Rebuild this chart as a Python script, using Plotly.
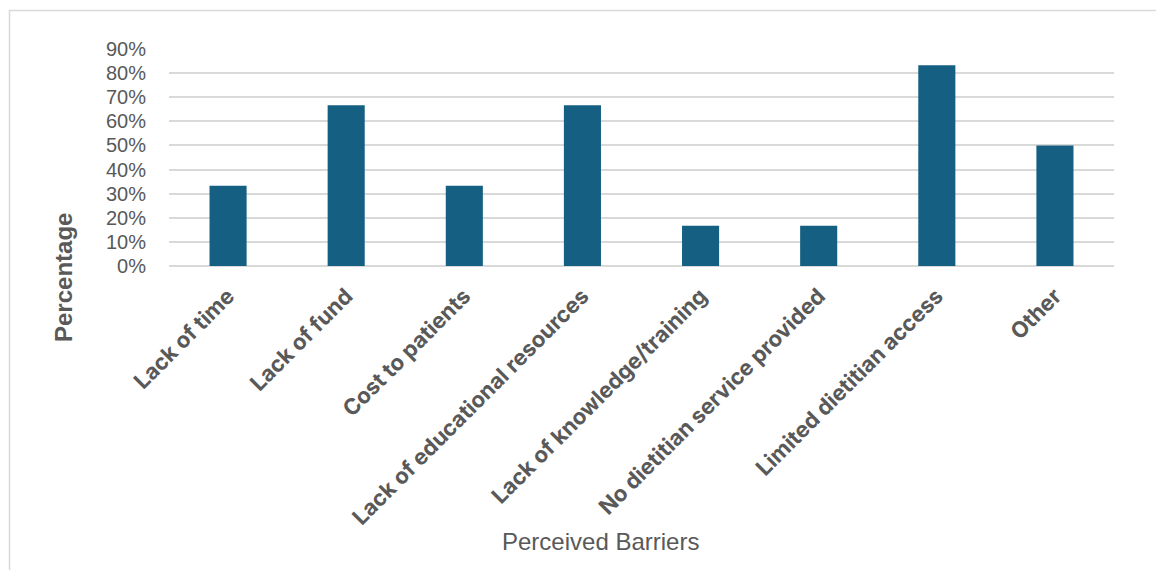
import plotly.graph_objects as go

categories = ["Lack of time", "Lack of fund", "Cost to patients", "Lack of educational resources",
              "Lack of knowledge/training", "No dietitian service provided",
              "Limited dietitian access", "Other"]
values = [0.333, 0.667, 0.333, 0.667, 0.167, 0.167, 0.833, 0.50]
y_ticks = [0, 0.1, 0.2, 0.3, 0.4, 0.5, 0.6, 0.7, 0.8, 0.9]
y_tick_labels = ["0%", "10%", "20%", "30%", "40%", "50%", "60%", "70%", "80%", "90%"]
x_title = "Perceived Barriers"
y_title = "Percentage"

W, H = 1156, 570
L, R, T, B = 169, 1114, 49, 266
pw, ph = R - L, B - T

def px_x(x):
    return (x - L) / pw

def px_y(y):
    return (B - y) / ph

fig = go.Figure(go.Bar(x=categories, y=values, marker=dict(color="#156082", line=dict(width=0)),
                       width=0.314))

fig.update_layout(
    width=W, height=H,
    margin=dict(l=L, r=W - R, t=T, b=H - B),
    paper_bgcolor="white", plot_bgcolor="white",
    showlegend=False,
    font=dict(family="Liberation Sans", color="#595959"),
    xaxis=dict(tickangle=-45, tickfont=dict(size=22, family="Inter", color="#595959", weight="bold"),
               showgrid=False, showline=False, zeroline=False, ticks="", ticklabelstandoff=12,
               range=[-0.5, 7.5]),
    yaxis=dict(range=[0, 0.9], tickvals=y_ticks, ticktext=y_tick_labels,
               tickfont=dict(size=20, color="#595959"),
               showgrid=True, gridcolor="#d9d9d9", gridwidth=1.5,
               zeroline=True, zerolinecolor="#d9d9d9", zerolinewidth=1.5,
               showline=False, ticks="", ticklabelstandoff=22),
    annotations=[
        dict(text=x_title, xref="paper", yref="paper", x=px_x(600), y=px_y(541),
             xanchor="center", yanchor="middle", showarrow=False,
             font=dict(size=24, color="#595959", family="Liberation Sans")),
        dict(text="<b>" + y_title + "</b>", xref="paper", yref="paper", x=px_x(63), y=px_y(278),
             xanchor="center", yanchor="middle", textangle=-90, showarrow=False,
             font=dict(size=24, color="#595959", family="Liberation Sans")),
    ],
    shapes=[
        dict(type="rect", xref="paper", yref="paper",
             x0=px_x(9.5), x1=px_x(1170), y0=px_y(590), y1=px_y(10.5),
             line=dict(color="#d9d9d9", width=1.5), fillcolor="rgba(0,0,0,0)", layer="below"),
    ],
)

fig.write_html("out.html")
